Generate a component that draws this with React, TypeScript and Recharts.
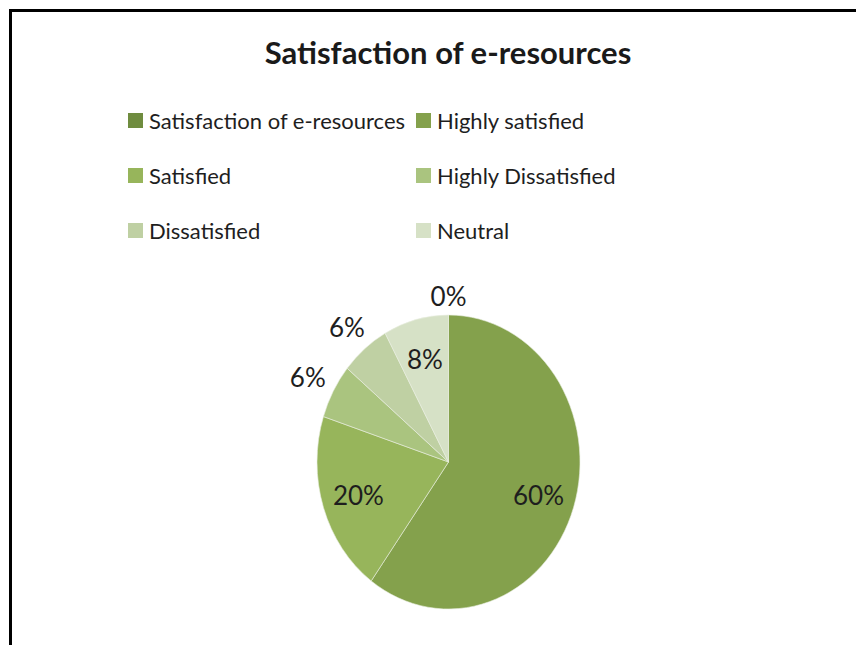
import React from "react";
import { PieChart, Pie, Legend } from "recharts";

const categories = [
	"Satisfaction of e-resources",
	"Highly satisfied",
	"Satisfied",
	"Highly Dissatisfied",
	"Dissatisfied",
	"Neutral",
];
const shares = [0, 60, 20, 6, 6, 8];
const colors = ["#6f8c3f", "#84a14c", "#97b55b", "#aac47f", "#bfd0a3", "#d6e1c6"];

const FONT = "Lato, 'Open Sans', sans-serif";
const RAD = Math.PI / 180;
// the original pie is a bit taller than wide
const SX = 131.5 / 147;

const data = categories.map((name, i) => ({
	name,
	value: shares[i],
	fill: colors[i],
}));

function EllipseSector(props: any) {
	const { cx, cy, outerRadius, startAngle, endAngle, fill } = props;
	const rx = outerRadius * SX;
	const ry = outerRadius;
	const delta = Math.abs(endAngle - startAngle);
	if (delta < 1e-6) return <g />;
	if (delta >= 359.99) {
		return <ellipse cx={cx} cy={cy} rx={rx} ry={ry} fill={fill} />;
	}
	const pt = (a: number) => [cx + rx * Math.cos(-a * RAD), cy + ry * Math.sin(-a * RAD)];
	const [x1, y1] = pt(startAngle);
	const [x2, y2] = pt(endAngle);
	const large = delta > 180 ? 1 : 0;
	const sweep = startAngle > endAngle ? 1 : 0;
	const d = `M${cx},${cy} L${x1},${y1} A${rx},${ry} 0 ${large} ${sweep} ${x2},${y2} Z`;
	return <path d={d} fill={fill} stroke="#e9efe0" strokeWidth={0.6} />;
}

function renderLabel(p: any) {
	const { cx, cy, midAngle, outerRadius, percent, value } = p;
	const dx = Math.cos(-midAngle * RAD);
	const dy = Math.sin(-midAngle * RAD);
	const rx = outerRadius * SX;
	const ry = outerRadius;
	let x: number;
	let y: number;
	if (percent >= 0.07) {
		x = cx + 0.72 * rx * dx;
		y = cy + 0.72 * ry * dy;
	} else {
		// small slices: label sits just outside the rim
		const off = 8 + 18 * Math.abs(dx) + 11 * Math.abs(dy);
		x = cx + rx * dx + dx * off;
		y = cy + ry * dy + dy * off;
	}
	return (
		<text
			x={x}
			y={y}
			textAnchor="middle"
			dominantBaseline="central"
			fontFamily={FONT}
			fontSize={26}
			fill="#1e1e1e"
		>
			{value}%
		</text>
	);
}

function LegendBlock(props: any) {
	const items = [...(props.payload || [])].sort(
		(a: any, b: any) => categories.indexOf(a.value) - categories.indexOf(b.value),
	);
	return (
		<div
			style={{
				display: "grid",
				gridTemplateColumns: "288px 288px",
				gridAutoRows: "55px",
				fontFamily: FONT,
				fontSize: 22,
				color: "#1e1e1e",
			}}
		>
			{items.map((it: any) => (
				<div key={it.value} style={{ display: "flex", alignItems: "center", height: 30 }}>
					<span
						style={{
							width: 15,
							height: 15,
							background: it.color,
							marginRight: 6,
							flexShrink: 0,
						}}
					/>
					<span style={{ whiteSpace: "nowrap" }}>{it.value}</span>
				</div>
			))}
		</div>
	);
}

export default function App() {
	return (
		<div
			style={{
				position: "absolute",
				left: 0,
				top: 0,
				width: 856,
				height: 645,
				background: "#fff",
			}}
		>
			<div
				style={{
					position: "absolute",
					left: 9,
					top: 9,
					right: 0,
					bottom: 0,
					borderLeft: "3px solid #000",
					borderTop: "3px solid #000",
				}}
			/>
			<div
				style={{
					position: "absolute",
					left: 0,
					top: 33,
					width: 896,
					textAlign: "center",
					fontFamily: FONT,
					fontWeight: 700,
					fontSize: 31,
					color: "#1a1a1a",
				}}
			>
				Satisfaction of e-resources
			</div>
			<PieChart
				width={856}
				height={645}
				margin={{ top: 0, right: 0, bottom: 0, left: 0 }}
				style={{ position: "absolute", left: 0, top: 0 }}
			>
				<Legend
					content={LegendBlock}
					wrapperStyle={{ position: "absolute", top: 105, left: 128, width: 600 }}
				/>
				<Pie
					data={data}
					dataKey="value"
					nameKey="name"
					cx={448.5}
					cy={462}
					outerRadius={147}
					startAngle={90}
					endAngle={-270}
					shape={EllipseSector}
					label={renderLabel}
					labelLine={false}
					isAnimationActive={false}
				/>
			</PieChart>
		</div>
	);
}
